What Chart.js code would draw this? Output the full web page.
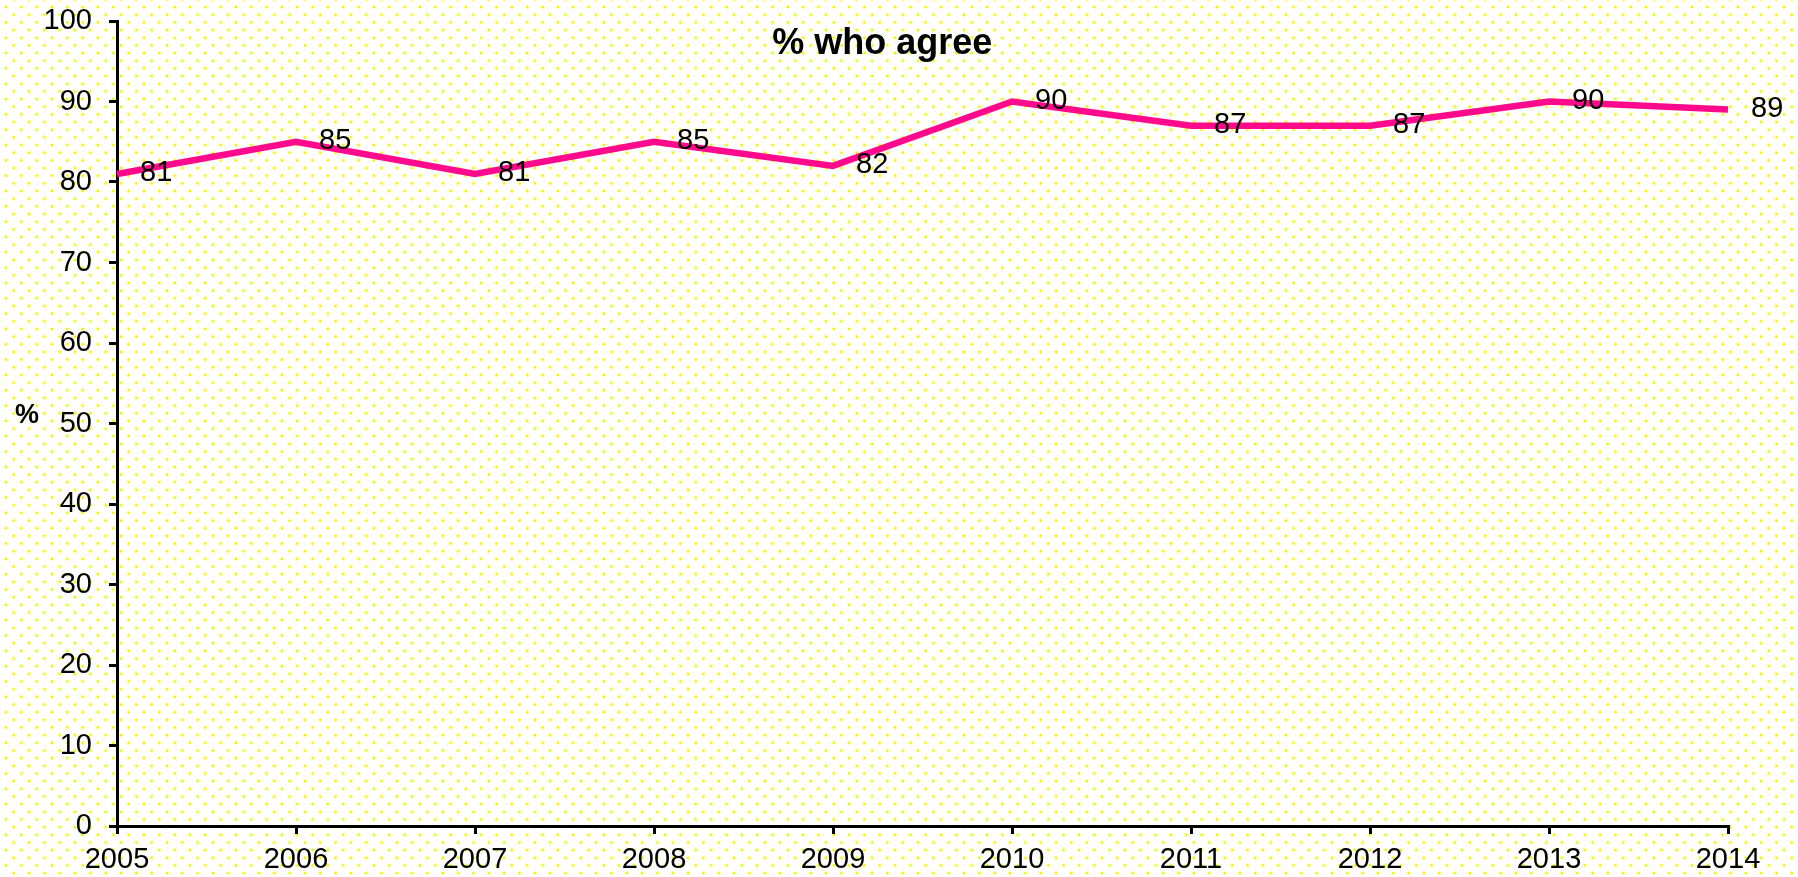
<!DOCTYPE html>
<html>
<head>
<meta charset="utf-8">
<script src="https://cdn.jsdelivr.net/npm/chart.js@4.4.0/dist/chart.umd.min.js"></script>
<style>
  html, body { margin: 0; padding: 0; background: #fff; }
  #wrap {
    width: 1798px; height: 877px; position: relative;
    background-color: #fff;
    background-image:
      radial-gradient(circle, #f5f000 1px, rgba(255,255,0,0.35) 1.6px, transparent 2.2px),
      radial-gradient(circle, #f5f000 1px, rgba(255,255,0,0.35) 1.6px, transparent 2.2px);
    background-size: 15.33px 15.33px;
    background-position: -1.6px -0.6px, 6.1px 7.1px;
  }
</style>
</head>
<body>
<div id="wrap"><canvas id="lineChart" width="1798" height="877"></canvas></div>
<script>
// data
var years = ['2005', '2006', '2007', '2008', '2009', '2010', '2011', '2012', '2013', '2014'];
var agree = [81, 85, 81, 85, 82, 90, 87, 87, 90, 89];
var chartTitle = '% who agree';
var yTitle = '%';

var fontFam = '"Liberation Sans", Arial, sans-serif';

// draws the value next to each point, the title and the "%" axis label
var labelPlugin = {
  id: 'labels',
  afterDatasetsDraw: function (chart) {
    var ctx = chart.ctx;
    var meta = chart.getDatasetMeta(0);
    var area = chart.chartArea;
    ctx.save();
    ctx.fillStyle = '#000';
    ctx.font = '29px ' + fontFam;
    ctx.textAlign = 'left';
    ctx.textBaseline = 'middle';
    meta.data.forEach(function (pt, i) {
      ctx.fillText(agree[i], pt.x + 23, pt.y - 1);
    });
    // title
    ctx.font = 'bold 36px ' + fontFam;
    ctx.textAlign = 'center';
    ctx.textBaseline = 'alphabetic';
    ctx.fillText(chartTitle, area.left + (area.right - area.left) * 0.475, 54);
    // y title, horizontal
    ctx.font = 'bold 27px ' + fontFam;
    ctx.textBaseline = 'middle';
    ctx.fillText(yTitle, 27, 416);
    ctx.restore();
  }
};

var ctx = document.getElementById('lineChart').getContext('2d');
var myChart = new Chart(ctx, {
  type: 'line',
  data: {
    labels: years,
    datasets: [{
      label: chartTitle,
      data: agree,
      borderColor: '#ff0a8c',
      borderWidth: 6.5,
      pointRadius: 0,
      tension: 0,
      fill: false
    }]
  },
  options: {
    responsive: false,
    animation: false,
    layout: { padding: { top: 21, right: 70, left: 0, bottom: 0 } },
    plugins: {
      legend: { display: false },
      tooltip: { enabled: false }
    },
    scales: {
      x: {
        offset: false,
        border: { display: true, color: '#000', width: 3 },
        grid: { drawOnChartArea: false, drawTicks: true, tickLength: 8, color: '#000', lineWidth: 3 },
        ticks: { color: '#000', font: { size: 29, family: fontFam }, padding: 9, maxRotation: 0 },
        afterFit: function (s) { s.height = 51; s.paddingLeft = 0; s.paddingRight = 0; }
      },
      y: {
        min: 0,
        max: 100,
        border: { display: true, color: '#000', width: 3 },
        grid: { drawOnChartArea: false, drawTicks: true, tickLength: 8, color: '#000', lineWidth: 3 },
        ticks: { stepSize: 10, color: '#000', font: { size: 29, family: fontFam }, padding: 17 },
        afterFit: function (s) { s.width = 117; s.paddingTop = 0; s.paddingBottom = 0; }
      }
    }
  },
  plugins: [labelPlugin]
});
</script>
</body>
</html>
